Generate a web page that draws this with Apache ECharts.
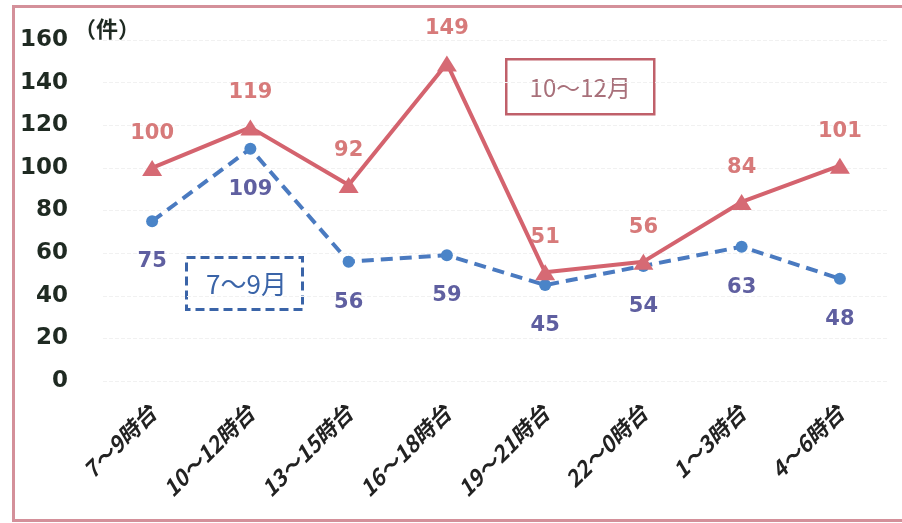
<!DOCTYPE html>
<html>
<head>
<meta charset="utf-8">
<script src="https://cdn.jsdelivr.net/npm/echarts@6/dist/echarts.min.js"></script>
<style>
  html, body { margin: 0; padding: 0; background: #fff; }
  #chart { width: 902px; height: 523px; }
</style>
</head>
<body>
<div id="chart"></div>
<script>
// 時間帯
const categories = ['7～9時台', '10～12時台', '13～15時台', '16～18時台', '19～21時台', '22～0時台', '1～3時台', '4～6時台'];
// 10～12月
const octDec = [100, 119, 92, 149, 51, 56, 84, 101];
// 7～9月
const julSep = [75, 109, 56, 59, 45, 54, 63, 48];
const yTicks = { min: 0, max: 160, interval: 20 };
const unitLabel = '（件）';
const octDecName = '10～12月';
const julSepName = '7～9月';

const numFont = '"DejaVu Sans", "Noto Sans", sans-serif';
const jpFont = '"Noto Sans CJK JP", "Noto Sans", sans-serif';

const chart = echarts.init(document.getElementById('chart'));

const option = {
  backgroundColor: '#ffffff',
  animation: false,
  grid: { left: 103, right: 13, top: 40, bottom: 142 },
  xAxis: {
    type: 'category',
    data: categories,
    axisLine: { show: false },
    axisTick: { show: false },
    axisLabel: {
      rotate: 45,
      margin: 28,
      color: '#222',
      fontFamily: jpFont,
      fontWeight: 'bold',
      fontStyle: 'italic',
      fontSize: 22
    }
  },
  yAxis: {
    type: 'value',
    min: yTicks.min,
    max: yTicks.max,
    interval: yTicks.interval,
    name: unitLabel,
    nameLocation: 'end',
    nameGap: 0,
    nameTextStyle: {
      color: '#1f2a22',
      fontFamily: jpFont,
      fontWeight: 'bold',
      fontSize: 22,
      align: 'center',
      padding: [0, 0, 0, 8]
    },
    axisLine: { show: false },
    axisTick: { show: false },
    axisLabel: {
      margin: 35,
      color: '#1f2a22',
      fontFamily: numFont,
      fontWeight: 'bold',
      fontSize: 23
    },
    splitLine: {
      lineStyle: { color: '#f1f1f1', type: 'dashed', width: 1 }
    }
  },
  series: [
    {
      name: julSepName,
      type: 'line',
      data: julSep,
      symbol: 'circle',
      symbolSize: 12,
      z: 2,
      lineStyle: { color: '#4a7ac0', width: 4, type: [12, 7] },
      itemStyle: { color: '#4a84c8' },
      label: {
        show: true,
        position: 'bottom',
        distance: 24,
        color: '#5f5fa0',
        fontFamily: numFont,
        fontWeight: 'bold',
        fontSize: 21
      }
    },
    {
      name: octDecName,
      type: 'line',
      data: octDec,
      symbol: 'triangle',
      symbolSize: [20, 16],
      z: 3,
      lineStyle: { color: '#d4636e', width: 4 },
      itemStyle: { color: '#d66a74' },
      label: {
        show: true,
        position: 'top',
        distance: 16,
        color: '#d77a7a',
        fontFamily: numFont,
        fontWeight: 'bold',
        fontSize: 21
      }
    }
  ],
  graphic: [
    {
      type: 'rect',
      left: 11,
      top: 4,
      shape: { width: 920, height: 514 },
      style: { fill: 'none', stroke: '#d4909a', lineWidth: 3 },
      silent: true
    },
    {
      type: 'group',
      left: 505,
      top: 58,
      children: [
        {
          type: 'rect',
          shape: { width: 148, height: 55 },
          style: { fill: '#fff', stroke: '#c0606a', lineWidth: 2.5 }
        },
        {
          type: 'text',
          x: 74,
          y: 29,
          style: {
            text: octDecName,
            fill: '#a8707a',
            font: '24px ' + jpFont,
            align: 'center',
            verticalAlign: 'middle'
          }
        }
      ]
    },
    {
      type: 'group',
      left: 185,
      top: 256,
      children: [
        {
          type: 'rect',
          shape: { width: 116, height: 52 },
          style: { fill: '#fff', stroke: '#3a64a8', lineWidth: 3, lineDash: [9, 5] }
        },
        {
          type: 'text',
          x: 60,
          y: 27,
          style: {
            text: julSepName,
            fill: '#3a64a8',
            font: '26px ' + jpFont,
            align: 'center',
            verticalAlign: 'middle'
          }
        }
      ]
    }
  ]
};

chart.setOption(option);
</script>
</body>
</html>
